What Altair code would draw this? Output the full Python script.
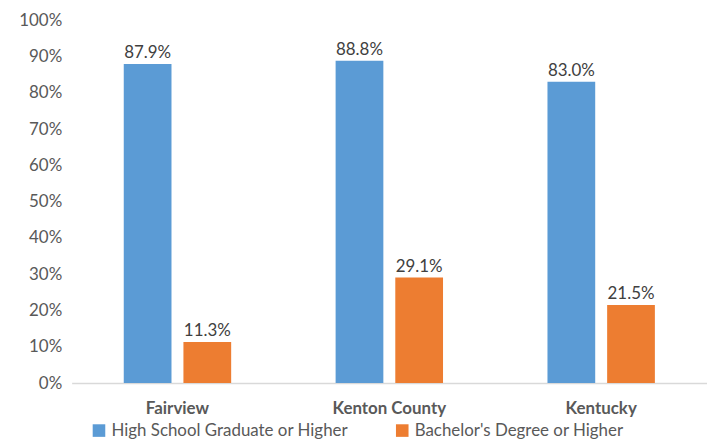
import altair as alt
import pandas as pd

categories = ["Fairview", "Kenton County", "Kentucky"]
series = ["High School Graduate or Higher", "Bachelor's Degree or Higher"]
hs_values = [0.879, 0.888, 0.830]
ba_values = [0.113, 0.291, 0.215]
colors = ["#5B9BD5", "#ED7D31"]

rows = []
for c, h, b in zip(categories, hs_values, ba_values):
    rows.append({"place": c, "series": series[0], "value": h})
    rows.append({"place": c, "series": series[1], "value": b})
df = pd.DataFrame(rows)

FONT = "Lato"
FS = 17

x = alt.X("place:N", sort=categories, title=None,
          scale=alt.Scale(paddingInner=0.493, paddingOuter=0.246),
          axis=alt.Axis(labelAngle=0, labelFontWeight="bold", labelFontSize=FS,
                        labelColor="#595959", labelFont=FONT, ticks=False,
                        domainColor="#D9D9D9", domainWidth=1.5, labelPadding=18))
xo = alt.XOffset("series:N", sort=series,
                 scale=alt.Scale(paddingInner=0.2, paddingOuter=0))
y = alt.Y("value:Q", title=None,
          scale=alt.Scale(domain=[0, 1]),
          axis=alt.Axis(format=".0%", values=[i / 10 for i in range(11)],
                        grid=False, domain=False, ticks=False,
                        labelFontSize=FS, labelColor="#595959", labelFont=FONT,
                        labelPadding=10))

base = alt.Chart(df).encode(x=x, xOffset=xo, y=y)

bars = base.mark_bar().encode(
    color=alt.Color("series:N", sort=series,
                    scale=alt.Scale(domain=series, range=colors),
                    legend=alt.Legend(orient="none", legendX=19, legendY=404,
                                      title=None, direction="horizontal",
                                      symbolType="square", symbolSize=160,
                                      labelFontSize=FS, labelColor="#595959",
                                      labelFont=FONT, columnPadding=45,
                                      labelLimit=400))
)

text = base.mark_text(dy=-11, fontSize=FS, color="#404040", font=FONT).encode(
    text=alt.Text("value:Q", format=".1%")
)

chart = (bars + text).properties(
    width=639, height=365,
    padding={"left": 10, "top": 2, "right": 0, "bottom": 0}
).configure_view(stroke=None)

chart.save("out.html", embed_options={"renderer": "svg", "actions": False})
